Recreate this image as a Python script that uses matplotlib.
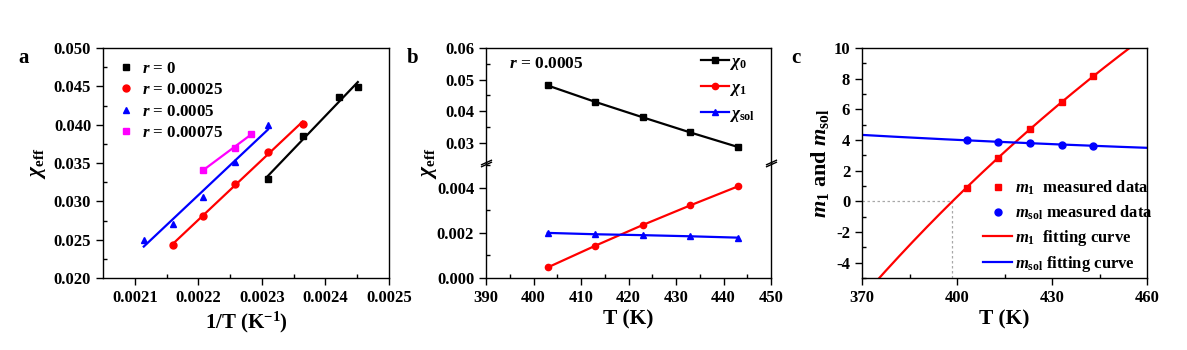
import numpy as np
import matplotlib
matplotlib.use("Agg")
import matplotlib.pyplot as plt
from matplotlib.lines import Line2D

plt.rcParams['font.family'] = 'Liberation Serif'
plt.rcParams['font.weight'] = 'bold'
plt.rcParams['axes.labelweight'] = 'bold'
plt.rcParams['mathtext.fontset'] = 'custom'
plt.rcParams['mathtext.rm'] = 'Liberation Serif:bold'
plt.rcParams['mathtext.it'] = 'Liberation Serif:italic:bold'
plt.rcParams['mathtext.bf'] = 'Liberation Serif:bold'
plt.rcParams['axes.linewidth'] = 1.0

# ---- panel a data: chi_eff vs 1/T for several r ----
r_labels = ['0', '0.00025', '0.0005', '0.00075']
r_colors = ['black', 'red', 'blue', 'magenta']
r_markers = ['s', 'o', '^', 's']
T_r0 = [433, 423, 413, 408]
chi_r0 = [0.0329, 0.0385, 0.0436, 0.0449]
T_r1 = [463, 453, 443, 433, 423]
chi_r1 = [0.0243, 0.0281, 0.0323, 0.0364, 0.0401]
T_r2 = [473, 463, 453, 443, 433]
chi_r2 = [0.0250, 0.0271, 0.0306, 0.0351, 0.0400]
T_r3 = [453, 443, 438]
chi_r3 = [0.0341, 0.0370, 0.0388]

# ---- panel b data: r = 0.0005 ----
T_b = [403, 413, 423, 433, 443]
chi0 = [0.0481, 0.0429, 0.0380, 0.0332, 0.0286]
chi1 = [0.00047, 0.00143, 0.00235, 0.00322, 0.00406]
chisol = [0.00200, 0.00194, 0.00190, 0.00185, 0.00179]

# ---- panel c data ----
T_c = [403, 413, 423, 433, 443]
m1 = [0.89, 2.85, 4.70, 6.46, 8.15]
msol = [3.98, 3.89, 3.78, 3.70, 3.63]

W, H = 1187, 350
fig = plt.figure(figsize=(W / 100, H / 100), dpi=100)


def box(l, t, r, b):
    return [l / W, 1 - b / H, (r - l) / W, (b - t) / H]


def fpos(x, y):
    return (x / W, 1 - y / H)


def style(ax):
    ax.tick_params(which='major', direction='out', length=5, width=1, labelsize=12,
                   right=False, top=False)
    ax.tick_params(which='minor', direction='in', length=3, width=1,
                   right=False, top=False)
    for lab in ax.get_xticklabels() + ax.get_yticklabels():
        lab.set_fontweight('bold')


# ================= panel a =================
axa = fig.add_axes(box(103, 48, 389, 278))
series = [(T_r0, chi_r0), (T_r1, chi_r1), (T_r2, chi_r2), (T_r3, chi_r3)]
for (T, chi), lab, col, mk in zip(series, r_labels, r_colors, r_markers):
    x = 1.0 / np.array(T, dtype=float)
    axa.plot(x, chi, linestyle='none', marker=mk, color=col, markersize=5,
             label=r'$r$ = ' + lab)
    k, c0 = np.polyfit(x, chi, 1)
    xf = np.linspace(x.min(), x.max(), 10)
    axa.plot(xf, k * xf + c0, color=col, lw=1.6)
axa.set_xlim(0.00205, 0.0025)
axa.set_ylim(0.020, 0.050)
xa_ticks = [0.0021, 0.0022, 0.0023, 0.0024, 0.0025]
axa.set_xticks(xa_ticks)
axa.set_xticklabels(['%.4f' % v for v in xa_ticks])
axa.set_xticks(np.arange(0.00215, 0.0025, 0.0001), minor=True)
ya_ticks = np.arange(0.020, 0.0501, 0.005)
axa.set_yticks(ya_ticks)
axa.set_yticklabels(['%.3f' % v for v in ya_ticks])
axa.set_yticks(np.arange(0.0225, 0.050, 0.005), minor=True)
style(axa)
axa.set_xlabel(r'1/T (K$^{\mathregular{-1}}$)', fontsize=15, labelpad=3)
axa.set_ylabel(r'$\chi_{\mathrm{eff}}$', fontsize=15.5, labelpad=4)
axa.legend(loc='upper left', frameon=False, fontsize=12.2, handletextpad=0.35,
           borderaxespad=0, borderpad=0, labelspacing=0.32, handlelength=1.1,
           bbox_to_anchor=fpos(117, 61), bbox_transform=fig.transFigure)
fig.text(24 / W, 1 - 58 / H, 'a', fontsize=15, fontweight='bold', ha='center', va='center')

# ================= panel b =================
axb_top = fig.add_axes(box(486, 48, 771, 163))
axb_bot = fig.add_axes(box(486, 163, 771, 278))
axb_top.plot(T_b, chi0, color='black', marker='s', markersize=4.5, lw=1.6)
axb_bot.plot(T_b, chi1, color='red', marker='o', markersize=4.5, lw=1.6)
axb_bot.plot(T_b, chisol, color='blue', marker='^', markersize=4.5, lw=1.6)
for ax in (axb_top, axb_bot):
    ax.set_xlim(390, 450)
axb_top.set_ylim(0.0235, 0.060)
axb_bot.set_ylim(0.0, 0.0051)
axb_top.spines['bottom'].set_visible(False)
axb_bot.spines['top'].set_visible(False)
axb_top.set_xticks([])
axb_top.set_yticks([0.03, 0.04, 0.05, 0.06])
axb_top.set_yticklabels(['0.03', '0.04', '0.05', '0.06'])
axb_top.set_yticks([0.035, 0.045, 0.055], minor=True)
axb_bot.set_yticks([0.0, 0.002, 0.004])
axb_bot.set_yticklabels(['0.000', '0.002', '0.004'])
axb_bot.set_yticks([0.001, 0.003, 0.005], minor=True)
xb_ticks = list(range(390, 451, 10))
axb_bot.set_xticks(xb_ticks)
axb_bot.set_xticklabels([str(v) for v in xb_ticks])
axb_bot.set_xticks(np.arange(395, 450, 10), minor=True)
style(axb_top)
style(axb_bot)
axb_top.tick_params(axis='x', which='both', bottom=False)
axb_bot.set_xlabel('T (K)', fontsize=15.5, labelpad=3)
fig.text(429 / W, 1 - 163 / H, r'$\chi_{\mathrm{eff}}$', fontsize=15.5,
         rotation=90, ha='center', va='center')
axb_top.text(0.08, 0.86, r'$r$ = 0.0005', transform=axb_top.transAxes,
             fontsize=12.5, fontweight='bold', va='center')
# break marks
for xpos in (0, 1):
    for dy in (-0.012, 0.012):
        axb_bot.plot([xpos], [1 + dy], transform=axb_bot.transAxes,
                     marker=[(-1, -0.45), (1, 0.45)], markersize=8,
                     mew=1, color='k', linestyle='none', clip_on=False)
handles_b = [
    Line2D([], [], color='black', marker='s', markersize=4.5, lw=1.6),
    Line2D([], [], color='red', marker='o', markersize=4.5, lw=1.6),
    Line2D([], [], color='blue', marker='^', markersize=4.5, lw=1.6),
]
labels_b = [r'$\chi_{\mathregular{0}}$', r'$\chi_{\mathregular{1}}$', r'$\chi_{\mathregular{sol}}$']
axb_top.legend(handles_b, labels_b, loc='upper left', frameon=False, fontsize=12.5,
               handlelength=1.6, handletextpad=0.0, labelspacing=0.45,
               borderaxespad=0, borderpad=0,
               bbox_to_anchor=fpos(701, 54), bbox_transform=fig.transFigure)
fig.text(413 / W, 1 - 58 / H, 'b', fontsize=15, fontweight='bold', ha='center', va='center')

# ================= panel c =================
axc = fig.add_axes(box(862, 48, 1147, 278))
invT = 1.0 / np.array(T_c, dtype=float)
p1 = np.polyfit(invT, m1, 1)
ps = np.polyfit(invT, msol, 1)
Tf = np.linspace(365, 465, 300)
T0 = -p1[0] / p1[1]
axc.plot([370, T0], [0, 0], color='#a8a8a8', ls=(0, (2, 2)), lw=0.9)
axc.plot([T0, T0], [-5, 0], color='#a8a8a8', ls=(0, (2, 2)), lw=0.9)
axc.plot(T_c, m1, linestyle='none', marker='s', color='red', markersize=5,
         label=r'$m_{\mathregular{1}}$  measured data')
axc.plot(T_c, msol, linestyle='none', marker='o', color='blue', markersize=5,
         label=r'$m_{\mathregular{sol}}$ measured data')
axc.plot(Tf, np.polyval(p1, 1.0 / Tf), color='red', lw=1.6,
         label=r'$m_{\mathregular{1}}$  fitting curve')
axc.plot(Tf, np.polyval(ps, 1.0 / Tf), color='blue', lw=1.6,
         label=r'$m_{\mathregular{sol}}$ fitting curve')
axc.set_xlim(370, 460)
axc.set_ylim(-5, 10)
xc_ticks = [370, 400, 430, 460]
axc.set_xticks(xc_ticks)
axc.set_xticklabels([str(v) for v in xc_ticks])
axc.set_xticks([385, 415, 445], minor=True)
yc_ticks = list(range(-4, 11, 2))
axc.set_yticks(yc_ticks)
axc.set_yticklabels([str(v) for v in yc_ticks])
axc.set_yticks(np.arange(-5, 10, 2), minor=True)
style(axc)
axc.set_xlabel('T (K)', fontsize=15.5, labelpad=3)
axc.set_ylabel(r'$m_{\mathregular{1}}$ and $m_{\mathregular{sol}}$', fontsize=16, labelpad=2)
axc.legend(loc='upper left', frameon=False, fontsize=12, handlelength=1.75,
           handletextpad=0.15, labelspacing=0.36, borderaxespad=0, borderpad=0,
           bbox_to_anchor=fpos(983, 179), bbox_transform=fig.transFigure)
fig.text(796 / W, 1 - 58 / H, 'c', fontsize=15, fontweight='bold', ha='center', va='center')

fig.savefig('out.png', dpi=100)
